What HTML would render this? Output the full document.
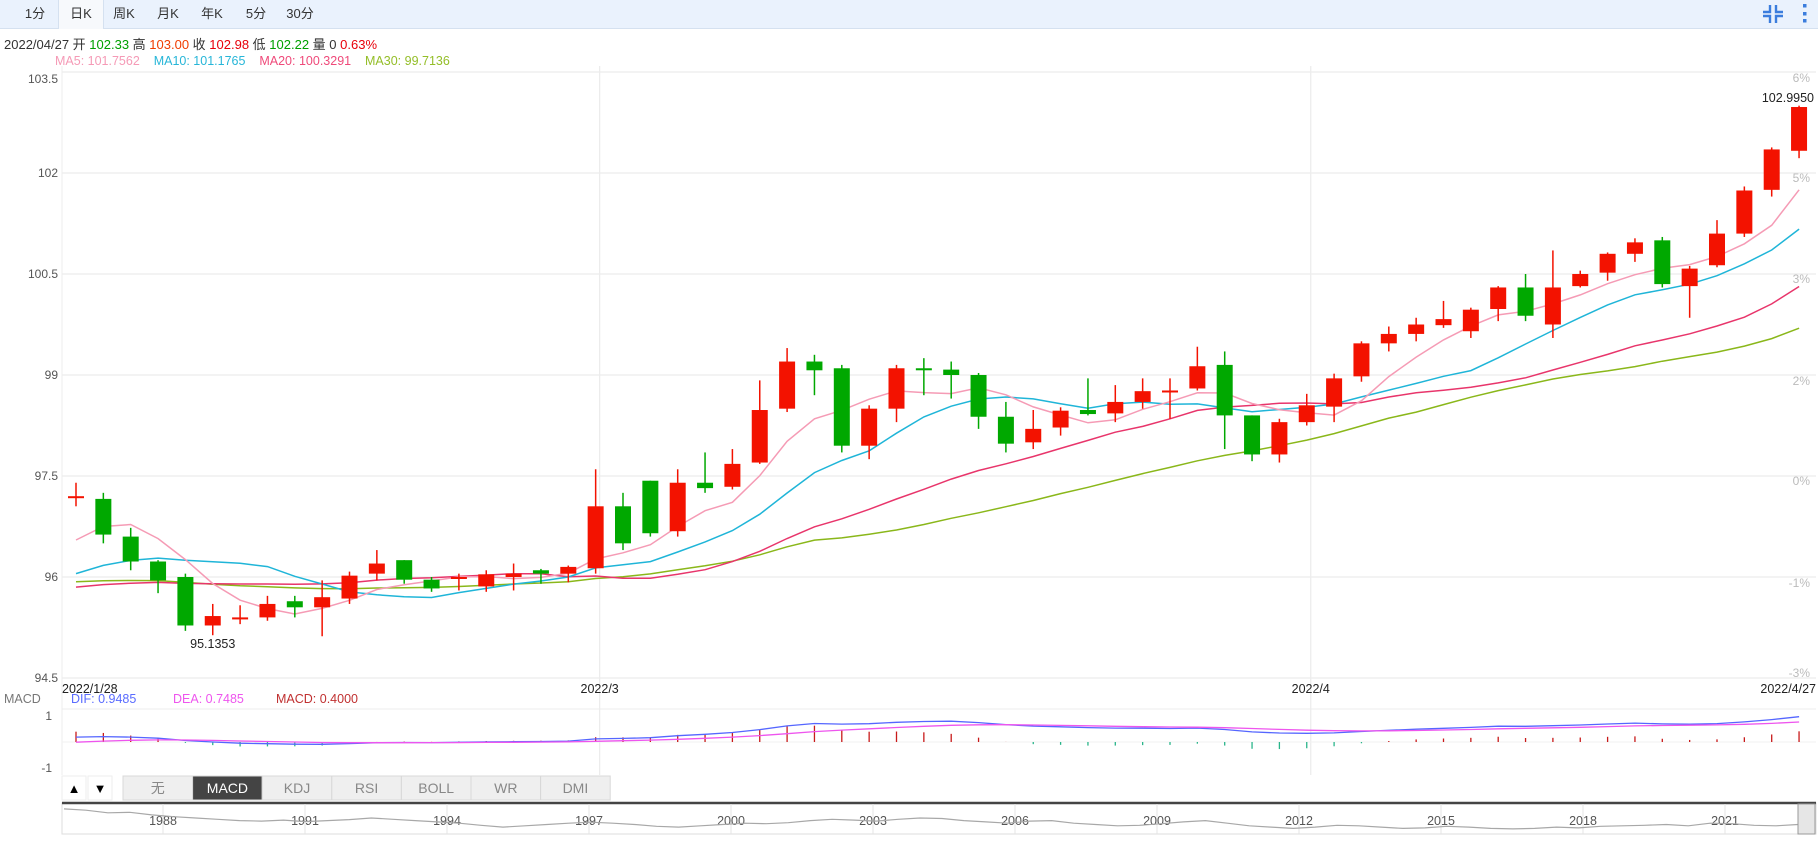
<!DOCTYPE html>
<html><head><meta charset="utf-8"><style>
html,body{margin:0;padding:0;background:#fff;}
body{width:1818px;height:848px;overflow:hidden;position:relative;font-family:"Liberation Sans","Noto Sans CJK SC",sans-serif;}
#toolbar{position:absolute;left:0;top:0;width:1818px;height:28px;background:#eaf2fd;border-bottom:1px solid #d5e1f0;}
.tab{position:absolute;top:0;height:28px;line-height:28px;font-size:13px;color:#333;text-align:center;width:44px;}
.tab.active{background:#f7f9fc;border-left:1px solid #d5e1f0;border-right:1px solid #d5e1f0;height:29px;}
#info{position:absolute;left:4px;top:34px;font-size:13px;color:#333;white-space:nowrap;}
#mainfo{position:absolute;left:55px;top:54px;font-size:12.5px;white-space:nowrap;}
svg{position:absolute;left:0;top:0;}
</style></head><body>
<div id="toolbar">
<div class="tab" style="left:13px">1分</div>
<div class="tab active" style="left:58px">日K</div>
<div class="tab" style="left:102px">周K</div>
<div class="tab" style="left:146px">月K</div>
<div class="tab" style="left:190px">年K</div>
<div class="tab" style="left:234px">5分</div>
<div class="tab" style="left:278px">30分</div>
<svg style="left:1760px;top:2px" width="26" height="24"><g stroke="#3b7ddd" stroke-width="2.4" fill="none"><path d="M10 3v7H3M16 3v7h7M10 21v-7H3M16 21v-7h7"/></g></svg>
<svg style="left:1800px;top:2px" width="10" height="24"><g fill="#3b7ddd"><rect x="3" y="2" width="3.5" height="3.5"/><rect x="3" y="10" width="3.5" height="3.5"/><rect x="3" y="17" width="3.5" height="3.5"/></g></svg>
</div>
<div id="info">2022/04/27 开 <span style="color:#00a000">102.33</span> 高 <span style="color:#f03c00">103.00</span> 收 <span style="color:#e8000a">102.98</span> 低 <span style="color:#00a000">102.22</span> 量 0 <span style="color:#e8000a">0.63%</span></div>
<div id="mainfo"><span style="color:#f59ab6">MA5: 101.7562</span>&nbsp;&nbsp;&nbsp;&nbsp;<span style="color:#27b6d8">MA10: 101.1765</span>&nbsp;&nbsp;&nbsp;&nbsp;<span style="color:#ef4a7a">MA20: 100.3291</span>&nbsp;&nbsp;&nbsp;&nbsp;<span style="color:#94be28">MA30: 99.7136</span></div>
<svg id="chart" width="1818" height="848"></svg>
<script>
const priorCloses=[96.2,96.1,96.0,96.1,96.2,96.1,96.0,96.1,96.0,96.09,95.9,95.8,95.7,95.6,95.5,95.5,95.6,95.6,95.6,95.7,95.4,95.5,95.6,95.6,95.65,95.63,96.08,97.0,96.84];
const openV=[97.2,97.16,96.6,96.23,96.0,95.28,95.37,95.4,95.64,95.55,95.68,96.05,96.25,95.96,96.0,95.86,96.0,96.1,96.05,96.13,97.05,97.43,96.68,97.4,97.34,97.7,98.5,99.2,99.1,97.95,98.5,99.1,99.08,99.0,98.38,98.0,98.22,98.48,98.43,98.6,98.75,98.8,99.15,98.4,97.82,98.3,98.53,98.98,99.47,99.61,99.74,99.65,99.98,100.3,99.75,100.32,100.52,100.8,101.0,100.32,100.63,101.1,101.75,102.33];
const closeV=[97.2,96.63,96.23,95.95,95.28,95.42,95.40,95.6,95.55,95.7,96.02,96.2,95.96,95.83,96.0,96.04,96.05,96.05,96.15,97.05,96.5,96.65,97.4,97.32,97.68,98.48,99.2,99.07,97.95,98.5,99.1,99.07,99.0,98.38,97.98,98.2,98.47,98.42,98.6,98.76,98.77,99.13,98.4,97.82,98.3,98.55,98.95,99.47,99.61,99.75,99.83,99.97,100.3,99.88,100.3,100.5,100.8,100.97,100.35,100.58,101.1,101.74,102.35,102.98];
const highV=[97.4,97.25,96.73,96.25,96.05,95.6,95.58,95.72,95.72,95.95,96.08,96.4,96.25,96.0,96.05,96.1,96.2,96.12,96.17,97.6,97.25,97.43,97.6,97.85,97.9,98.92,99.4,99.3,99.15,98.55,99.15,99.25,99.2,99.03,98.6,98.48,98.52,98.95,98.85,98.95,98.95,99.42,99.35,98.4,98.35,98.72,99.02,99.5,99.72,99.85,100.1,100.0,100.32,100.5,100.85,100.55,100.82,101.03,101.05,100.62,101.3,101.8,102.38,103.0];
const lowV=[97.05,96.5,96.1,95.76,95.2,95.1353,95.3,95.35,95.4,95.12,95.6,95.95,95.9,95.78,95.8,95.78,95.8,95.9,95.92,96.05,96.4,96.6,96.6,97.25,97.3,97.68,98.45,98.7,97.85,97.75,98.3,98.7,98.65,98.2,97.85,97.9,98.1,98.4,98.3,98.5,98.35,98.77,97.9,97.72,97.7,98.25,98.3,98.9,99.35,99.5,99.7,99.55,99.8,99.8,99.55,100.3,100.4,100.68,100.3,99.85,100.6,101.05,101.65,102.22];
const priceTicks=[103.5,102,100.5,99,97.5,96,94.5];
const pctLabels=["6%","5%","3%","2%","0%","-1%","-3%"];
const pctLabelY=[78,178,279,381,481,583,673];
const dateLabels=["2022/1/28","2022/3","2022/4","2022/4/27"];
const dateIdx=[0,19,45,63];
const navYears=["1988","1991","1994","1997","2000","2003","2006","2009","2012","2015","2018","2021"];
const navSeries=[0.15,0.2,0.3,0.28,0.38,0.45,0.5,0.55,0.6,0.62,0.58,0.64,0.6,0.56,0.5,0.55,0.6,0.65,0.7,0.78,0.85,0.8,0.75,0.7,0.66,0.7,0.75,0.82,0.85,0.8,0.75,0.7,0.72,0.68,0.6,0.55,0.58,0.62,0.55,0.5,0.52,0.6,0.65,0.7,0.62,0.6,0.7,0.75,0.8,0.78,0.72,0.65,0.6,0.7,0.8,0.85,0.9,0.85,0.78,0.8,0.85,0.9,0.88,0.82,0.85,0.9,0.92,0.9,0.85,0.88,0.82,0.8,0.78,0.75,0.8,0.7,0.72,0.78,0.8,0.75];

const svg=document.getElementById('chart');
const NS='http://www.w3.org/2000/svg';
function mk(tag,attrs,parent){const e=document.createElementNS(NS,tag);for(const k in attrs)e.setAttribute(k,attrs[k]);(parent||svg).appendChild(e);return e;}
const L=62,R=1816,X0=76,DX=27.35;
const xOf=i=>X0+i*DX;
const yOf=v=>72+(103.5-v)*(101/1.5);
const MZ=742,MS=26.5;
const yM=v=>MZ-v*MS;

// grid
priceTicks.forEach((t,k)=>{
  const g=mk('line',{x1:L,x2:R,y1:yOf(t),y2:yOf(t),stroke:'#ececec','stroke-width':1.2});
  
  
  const tx=mk('text',{x:58,y:(k===0?yOf(t)+11:yOf(t)+4),'text-anchor':'end','font-size':12,fill:'#555'});
  tx.textContent=t;
  
  
});
pctLabels.forEach((p,k)=>{
  const tx=mk('text',{x:1810,y:pctLabelY[k]+4,'text-anchor':'end','font-size':12,fill:'#bbb'});
  tx.textContent=p;
  
  
});
[19,45].forEach(i=>{
  const v=mk('line',{x1:xOf(i)+4,x2:xOf(i)+4,y1:66,y2:775,stroke:'#ececec','stroke-width':1.2});
  
  
});
mk('line',{x1:L,x2:L,y1:66,y2:775,stroke:'#ececec'});
mk('line',{x1:L,x2:R,y1:709,y2:709,stroke:'#ececec'});
mk('line',{x1:L,x2:R,y1:MZ,y2:MZ,stroke:'#f2f2f2'});
dateLabels.forEach((d,k)=>{
  const i=dateIdx[k];
  const anchor=k===0?'start':(k===3?'end':'middle');
  const x=k===0?L:(k===3?R:xOf(i)+4);
  const tx=mk('text',{x:x,y:693,'text-anchor':anchor,'font-size':12.5,fill:'#222'});
  tx.textContent=d;
  
  
});

// MAs
const all=priorCloses.concat(closeV);const P=priorCloses.length;
function ma(n,i){let s=0;for(let k=0;k<n;k++)s+=all[P+i-k];return s/n;}
[[30,'#8ab71a'],[20,'#e8356b'],[10,'#1fb5d8'],[5,'#f59bb5']].forEach(([n,c])=>{
  let d='';closeV.forEach((_,i)=>{d+=(i?'L':'M')+xOf(i).toFixed(1)+' '+yOf(ma(n,i)).toFixed(1);});
  const p=mk('path',{d:d,fill:'none',stroke:c,'stroke-width':1.5});
  
  
});

// candles
closeV.forEach((c,i)=>{
  const o=openV[i],up=c>=o,col=up?'#f31200':'#00a800';
  const x=xOf(i);
  const g=mk('g',{});
  
  
  mk('line',{x1:x,x2:x,y1:yOf(highV[i]),y2:yOf(lowV[i]),stroke:col,'stroke-width':1.5},g);
  const top=yOf(Math.max(o,c)),h=Math.max(2,Math.abs(yOf(o)-yOf(c)));
  mk('rect',{x:x-8,y:top,width:16,height:h,fill:col},g);
});
const lo=mk('text',{x:xOf(5),y:648,'text-anchor':'middle','font-size':12.5,fill:'#222'});lo.textContent='95.1353';

const hi=mk('text',{x:1814,y:102,'text-anchor':'end','font-size':12.5,fill:'#222'});hi.textContent='102.9950';


// MACD
const t1=mk('text',{x:4,y:703,'font-size':12.5,fill:'#777'});t1.textContent='MACD';

[['DIF: 0.9485','#5a6cff',71],['DEA: 0.7485','#ee55ee',173],['MACD: 0.4000','#c03030',276]].forEach(([s,c,x])=>{
  const t=mk('text',{x:x,y:703,'font-size':12.5,fill:c});t.textContent=s;
  
});
[[1,'1',720],[-1,'-1',772]].forEach(([v,s,y])=>{const t=mk('text',{x:52,y:y,'text-anchor':'end','font-size':12,fill:'#555'});t.textContent=s;
  });
let e12=all[0],e26=all[0],dea=0;const dif=[],deaA=[];
all.forEach((c,k)=>{e12=e12+(c-e12)*2/13;e26=e26+(c-e26)*2/27;const d=e12-e26;dea=dea+(d-dea)*2/10;if(k>=P){dif.push(d);deaA.push(dea);}});
dif.forEach((d,i)=>{const h=2*(d-deaA[i]);const b=mk('line',{x1:xOf(i),x2:xOf(i),y1:MZ,y2:yM(h),stroke:h>=0?'#c81a1a':'#2ab58a','stroke-width':1.3});
  });
[[dif,'#5566ff','dif-line'],[deaA,'#ee55ee','dea-line']].forEach(([arr,c,n])=>{
  let d='';arr.forEach((v,i)=>{d+=(i?'L':'M')+xOf(i).toFixed(1)+' '+yM(v).toFixed(1);});
  const p=mk('path',{d:d,fill:'none',stroke:c,'stroke-width':1.3});
  
});

// indicator tabs
const b1=mk('rect',{x:62,y:776,width:24,height:24,fill:'#fff',stroke:'#eee'});
const u=mk('text',{x:74,y:793,'text-anchor':'middle','font-size':13,fill:'#000'});u.textContent='▲';
const b2=mk('rect',{x:88,y:776,width:24,height:24,fill:'#fff',stroke:'#eee'});
const dn=mk('text',{x:100,y:793,'text-anchor':'middle','font-size':13,fill:'#000'});dn.textContent='▼';
['无','MACD','KDJ','RSI','BOLL','WR','DMI'].forEach((s,k)=>{
  const act=s==='MACD';
  const r=mk('rect',{x:123+k*69.6,y:776,width:69.6,height:24,fill:act?'#444':'#efefef',stroke:'#d8d8d8'});
  
  const t=mk('text',{x:123+k*69.6+34.8,y:793,'text-anchor':'middle','font-size':14,fill:act?'#fff':'#888'});t.textContent=s;
});

// navigator
const nav=mk('rect',{x:62,y:803,width:1754,height:31,fill:'#fff',stroke:'#ddd'});

mk('line',{x1:62,x2:1816,y1:803,y2:803,stroke:'#444','stroke-width':2.5});
navYears.forEach((y,k)=>{const x=163+k*142;mk('line',{x1:x,x2:x,y1:804,y2:834,stroke:'#e4e4e4'});
  const t=mk('text',{x:x,y:825,'text-anchor':'middle','font-size':12.5,fill:'#555'});t.textContent=y;
  });
let nd='';const nstep=(1798-64)/(navSeries.length-1);
navSeries.forEach((v,k)=>{nd+=(k?'L':'M')+(64+k*nstep).toFixed(1)+' '+(805+v*26).toFixed(1);});
const np=mk('path',{d:nd,fill:'none',stroke:'#a8a8a8','stroke-width':1.2});

const hd=mk('rect',{x:1798,y:804,width:17,height:30,fill:'#e6e6e6',stroke:'#999'});

</script>
</body></html>
